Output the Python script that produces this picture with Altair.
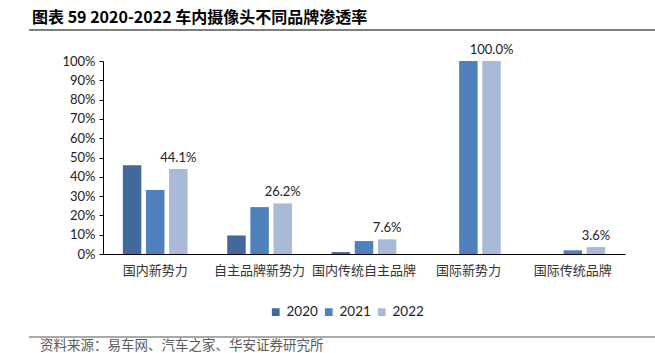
import altair as alt
import pandas as pd

categories = ["国内新势力", "自主品牌新势力", "国内传统自主品牌", "国际新势力", "国际传统品牌"]
years = ["2020", "2021", "2022"]
v2020 = [0.460, 0.096, 0.010, 0.0, 0.0]
v2021 = [0.332, 0.243, 0.067, 1.0, 0.019]
v2022 = [0.441, 0.262, 0.076, 1.0, 0.036]
y_ticks = [0, 0.1, 0.2, 0.3, 0.4, 0.5, 0.6, 0.7, 0.8, 0.9, 1.0]
colors = ["#41699b", "#4f81bd", "#a9bad9"]

title_text = "图表 59 2020-2022 车内摄像头不同品牌渗透率"
source_text = "资料来源：易车网、汽车之家、华安证券研究所"

rows = []
for i, c in enumerate(categories):
    for y, vals in zip(years, [v2020, v2021, v2022]):
        rows.append({"cat": c, "year": y, "val": vals[i]})
df = pd.DataFrame(rows)

W, H = 522, 193

xscale = alt.Scale(paddingInner=0.38, paddingOuter=0.19)
yscale = alt.Scale(domain=[0, 1])
xoff = alt.XOffset("year:N", sort=years, scale=alt.Scale(paddingInner=0.2, paddingOuter=0))

x_axis = alt.Axis(labelAngle=0, ticks=False, domainColor="#000000",
                  labelFont="Noto Sans CJK SC", labelFontSize=13,
                  labelColor="#333333", labelPadding=10)
y_axis = alt.Axis(format=".0%", values=y_ticks, tickCount=11,
                  labelOverlap=False,
                  grid=False, domainColor="#000000", tickColor="#000000",
                  tickSize=4, labelFont="Lato", labelFontSize=13,
                  labelColor="#222222", labelPadding=4)

bars = alt.Chart(df).mark_bar().encode(
    x=alt.X("cat:N", sort=categories, title=None, scale=xscale, axis=x_axis),
    xOffset=xoff,
    y=alt.Y("val:Q", title=None, scale=yscale, axis=y_axis),
    color=alt.Color("year:N", sort=years,
                    scale=alt.Scale(domain=years, range=colors),
                    legend=alt.Legend(title=None, orient="none", legendX=166, legendY=244,
                                      direction="horizontal", symbolType="square",
                                      symbolSize=60, symbolStrokeWidth=0,
                                      labelFont="Lato", labelFontSize=13.5,
                                      labelColor="#222222", columnPadding=4,
                                      labelOffset=4)),
)

labels = alt.Chart(df).transform_filter(alt.datum.year == "2022").mark_text(
    dy=-11, font="Lato", fontSize=13, color="#222222"
).encode(
    x=alt.X("cat:N", sort=categories, title=None, scale=xscale, axis=x_axis),
    xOffset=xoff,
    y=alt.Y("val:Q", title=None, scale=yscale, axis=y_axis),
    text=alt.Text("val:Q", format=".1%"),
)

deco_df = pd.DataFrame({"t": [title_text]})
title = alt.Chart(deco_df).mark_text(
    align="left", baseline="middle", font="Noto Sans CJK SC", fontWeight="bold",
    fontSize=16, color="#000000"
).encode(x=alt.value(-71), y=alt.value(-43), text="t:N")

src_df = pd.DataFrame({"t": [source_text]})
source = alt.Chart(src_df).mark_text(
    align="left", baseline="middle", font="Noto Sans CJK SC", fontSize=13.5,
    color="#5a5a5a"
).encode(x=alt.value(-63), y=alt.value(285), text="t:N")

rule_top = alt.Chart(deco_df).mark_rule(color="#7f7f7f", strokeWidth=2).encode(
    x=alt.value(-74), x2=alt.value(552), y=alt.value(-31))
rule_bot = alt.Chart(deco_df).mark_rule(color="#555555", strokeWidth=1.2).encode(
    x=alt.value(-74), x2=alt.value(552), y=alt.value(276))

chart = alt.layer(bars, labels, title, source, rule_top, rule_bot).properties(
    width=W, height=H,
    background="#ffffff",
    autosize=alt.AutoSizeParams(type="none"),
    padding={"left": 103, "top": 61, "right": 30, "bottom": 99},
).configure_view(stroke=None)

chart.save("out.html", embed_options={"renderer": "svg", "actions": False})
